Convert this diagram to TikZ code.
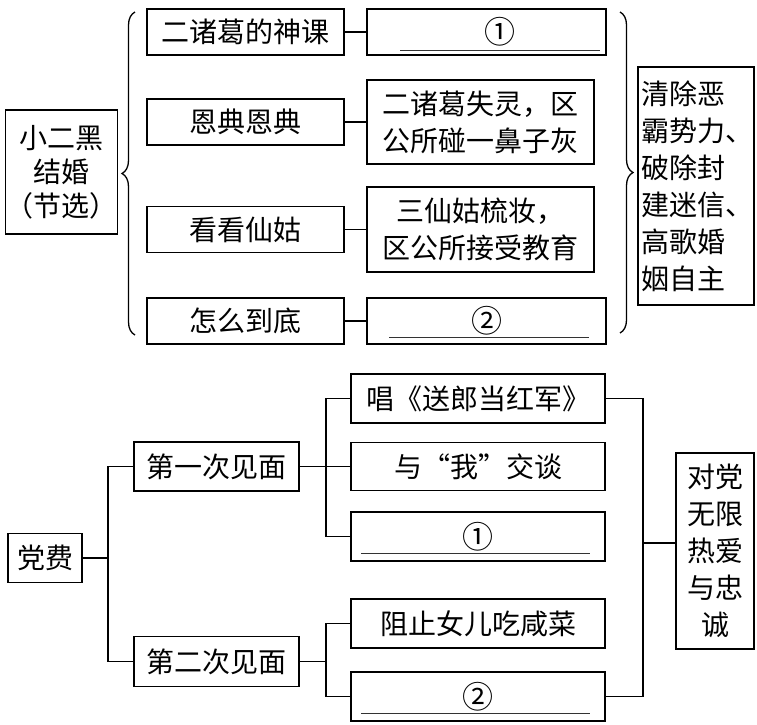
\documentclass[tikz,border=0pt]{standalone}
\usepackage{fontspec}
\newfontfamily\cjk{Noto Sans CJK SC}
\usetikzlibrary{positioning}
\usetikzlibrary{decorations.pathreplacing}
\tikzset{
    box/.style = {rectangle, draw=black, line width=1.3pt, inner sep=0pt, align=center,
                  font=\cjk\fontsize{28pt}{37pt}\selectfont},
    edgen/.style = {line width=1.3pt, draw=black},
    bracen/.style = {line width=1.3pt, draw=black, decoration={brace,amplitude=13pt}, decorate},
    blank/.style = {line width=0.8pt, draw=black!80},
}
\newcommand{\numb}[1]{{\fontsize{31pt}{37pt}\selectfont #1}}
\begin{document}
\begin{tikzpicture}[x=1pt,y=-1pt]
\useasboundingbox (0,0) rectangle (757,724);
%
\node[box, minimum width=111pt, minimum height=124pt,
      font=\cjk\fontsize{28pt}{34pt}\selectfont] at (61.5,172) (xh) {小二黑\\结婚\\（节选）};
\node[box, minimum width=197pt, minimum height=46pt] at (245.5,32) (k1) {二诸葛的神课};
\node[box, minimum width=197pt, minimum height=46pt] at (245.5,122) (k2) {恩典恩典};
\node[box, minimum width=197pt, minimum height=46pt] at (245.5,229.5) (k3) {看看仙姑};
\node[box, minimum width=197pt, minimum height=46pt] at (245.5,321) (k4) {怎么到底};
\node[box, minimum width=239pt, minimum height=46pt] at (486.5,32) (a1) {\hspace*{26pt}\numb{①}};
\node[box, minimum width=227pt, minimum height=84pt] at (480.5,122) (a2) {二诸葛失灵，区\\公所碰一鼻子灰};
\node[box, minimum width=227pt, minimum height=85pt] at (480.5,229.5) (a3) {三仙姑梳妆，\\区公所接受教育};
\node[box, minimum width=239pt, minimum height=46pt] at (486.5,321) (a4) {\numb{②}};
\node[box, minimum width=116pt, minimum height=238pt, inner xsep=3pt,
      text width=110pt, align=left] at (696,186) (zy) {清除恶\\霸势力、\\破除封\\建迷信、\\高歌婚\\姻自主};
%
\coordinate (lbt) at (135,12);
\coordinate (lbb) at (135,335);
\coordinate (rbt) at (620,12);
\coordinate (rbb) at (620,333);
\draw[bracen] (lbb) -- (lbt);
\draw[bracen] (rbt) -- (rbb);
%
\draw[edgen] (k1) -- (a1);
\draw[edgen] (k2) -- (k2 -| a2.west);
\draw[edgen] (k3) -- (k3 -| a3.west);
\draw[edgen] (k4) -- (a4);
\draw[blank] ([xshift=34pt,yshift=5pt]a1.south west) -- ([xshift=-7pt,yshift=5pt]a1.south east);
\draw[blank] ([xshift=23pt,yshift=7pt]a4.south west) -- ([xshift=-18pt,yshift=7pt]a4.south east);
%
\node[box, minimum width=74pt, minimum height=49pt] at (45,558) (df) {党费};
\node[box, minimum width=165pt, minimum height=49pt] at (216.5,466.5) (m1) {第一次见面};
\node[box, minimum width=165pt, minimum height=50pt] at (216.5,661.5) (m2) {第二次见面};
\node[box, minimum width=254pt, minimum height=49pt] at (478,398.5) (c1) {唱《送郎当红军》};
\node[box, minimum width=254pt, minimum height=48pt] at (478,466.5) (c2) {与“我”交谈};
\node[box, minimum width=254pt, minimum height=49pt] at (478,536.5) (c3) {\numb{①}};
\node[box, minimum width=254pt, minimum height=49pt] at (478,623.5) (c4) {阻止女儿吃咸菜};
\node[box, minimum width=254pt, minimum height=49pt] at (478,696.5) (c5) {\numb{②}};
\node[box, minimum width=78pt, minimum height=196pt] at (715,551) (zc) {对党\\无限\\热爱\\与忠\\诚};
%
\coordinate (j0) at (108,558);
\coordinate (j1) at (326,466.5);
\coordinate (j2) at (326,661.5);
\coordinate (j3) at (643,543);
\draw[edgen] (df) -- (j0);
\draw[edgen] (m1.west) -| (j0) |- (m2.west);
\draw[edgen] (m1) -- (j1);
\draw[edgen] (c1.west) -| (j1) |- (c3.west);
\draw[edgen] (j1) -- (c2);
\draw[edgen] (m2) -- (j2);
\draw[edgen] (c4.west) -| (j2) |- (c5.west);
\draw[edgen] (c1.east) -| (j3) |- (c5.east);
\draw[edgen] (j3) -- (j3 -| zc.west);
\draw[blank] ([xshift=11pt,yshift=8pt]c3.south west) -- ([xshift=-16pt,yshift=8pt]c3.south east);
\draw[blank] ([xshift=11pt,yshift=8pt]c5.south west) -- ([xshift=-16pt,yshift=8pt]c5.south east);
\end{tikzpicture}
\end{document}
